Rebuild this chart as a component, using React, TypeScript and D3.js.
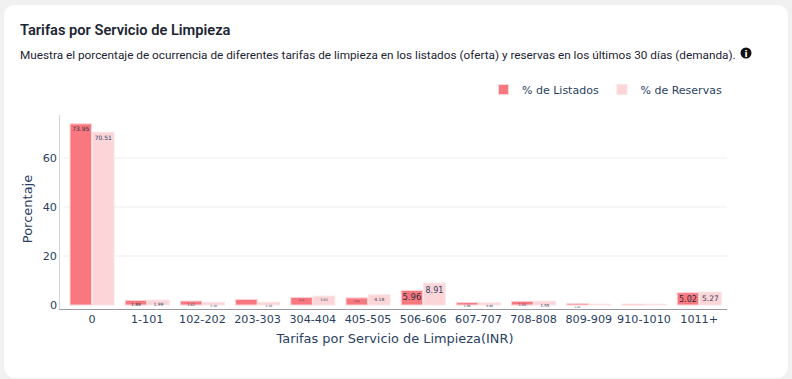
import React from "react";
import * as d3 from "d3";

const categories = ["0","1-101","102-202","203-303","304-404","405-505","506-606","607-707","708-808","809-909","910-1010","1011+"];
const listados = [73.95,1.88,1.62,2.3,3.1,2.9,5.96,1.0,1.5,0.6,0.3,5.02];
const reservas = [70.51,1.99,1.1,1.1,3.61,4.18,8.91,0.9,1.55,0.3,0.3,5.27];
const listadosLabels = ["73.95","1.88","1.62","","3.10","2.90","5.96","1.00","1.50","0.60","","5.02"];
const reservasLabels = ["70.51","1.99","1.10","1.10","3.61","4.18","8.91","0.90","1.55","","","5.27"];
const labelSizesL = [6,4.5,3.5,0,2.5,2.5,8.5,3,3.5,2.5,0,8];
const labelSizesR = [6,4.5,3,3,3.5,4.5,8,3,4,0,0,7.5];
const yTicks = [0,20,40,60];

const y = d3.scaleLinear().domain([0,60]).range([305,158]);
const x = d3.scaleBand<string>().domain(categories).range([64.4,726.8]).paddingInner(0);
const UI = "Roboto, 'Noto Sans', sans-serif";
const AX = "'DejaVu Sans', Verdana, sans-serif";
const C1 = "#f9777f", C2 = "#fcd5d8", S1 = "#fcd5d8", S2 = "#fbe3e5";
const BW = 21.5;

export default function App() {
  return (
    <svg width={792} height={379} style={{position:"fixed",left:0,top:0,background:"#f1f1f1"}}>
      <rect x={4} y={5} width={784} height={373} rx={11} fill="#fff"/>
      <text x={20} y={35} fontFamily={UI} fontSize={14.63} fontWeight={600} fill="#1c2533">Tarifas por Servicio de Limpieza</text>
      <text x={20} y={59} fontFamily={UI} fontSize={11.77} fill="#1c2533">Muestra el porcentaje de ocurrencia de diferentes tarifas de limpieza en los listados (oferta) y reservas en los últimos 30 días (demanda).</text>
      <circle cx={746} cy={53} r={5.5} fill="#111"/>
      <text x={746} y={56.5} textAnchor="middle" fontFamily={AX} fontSize={9} fontWeight={700} fill="#fff">i</text>

      <rect x={498.5} y={84.5} width={10} height={10} fill={C1} stroke={S1}/>
      <text x={522} y={94} fontFamily={AX} fontSize={11} fill="#2a3f5f">% de Listados</text>
      <rect x={617} y={84.5} width={10} height={10} fill={C2} stroke={S2}/>
      <text x={640.5} y={94} fontFamily={AX} fontSize={11} fill="#2a3f5f">% de Reservas</text>

      {yTicks.filter(t=>t>0).map(t=>(
        <line key={t} x1={64} x2={727} y1={y(t)} y2={y(t)} stroke="#eeeef0" strokeWidth={1}/>
      ))}
      <line x1={59.5} x2={59.5} y1={115} y2={309} stroke="#d6d6d6" strokeWidth={1}/>
      <line x1={59} x2={727} y1={309.5} y2={309.5} stroke="#9a9aa0" strokeWidth={1}/>

      {categories.map((c,i)=>{
        const cx = x(c)! + x.bandwidth()/2;
        const yL = y(listados[i]), yR = y(reservas[i]);
        return (
          <g key={c}>
            <rect x={cx-BW-0.5} y={yL} width={BW} height={y(0)-yL} fill={C1} stroke={S1} strokeWidth={1}/>
            <rect x={cx+0.5} y={yR} width={BW} height={y(0)-yR} fill={C2} stroke={S2} strokeWidth={1}/>
            {labelSizesL[i]>0 && <text x={cx-BW/2-0.5} y={yL+labelSizesL[i]+1.5} textAnchor="middle" fontFamily={AX} fontSize={labelSizesL[i]} fill="#2a3040">{listadosLabels[i]}</text>}
            {labelSizesR[i]>0 && <text x={cx+BW/2+0.5} y={yR+labelSizesR[i]+1.5} textAnchor="middle" fontFamily={AX} fontSize={labelSizesR[i]} fill="#2a3f5f">{reservasLabels[i]}</text>}
            <text x={cx} y={323} textAnchor="middle" fontFamily={AX} fontSize={11.2} fill="#2a3f5f">{c}</text>
          </g>
        );
      })}
      {yTicks.map(t=>(
        <text key={t} x={57} y={y(t)+4} textAnchor="end" fontFamily={AX} fontSize={11.2} fill="#2a3f5f">{t}</text>
      ))}
      <text transform="translate(32,209) rotate(-90)" textAnchor="middle" fontFamily={AX} fontSize={13} fill="#2a3f5f">Porcentaje</text>
      <text x={395} y={343} textAnchor="middle" fontFamily={AX} fontSize={12.9} fill="#2a3f5f">Tarifas por Servicio de Limpieza(INR)</text>
    </svg>
  );
}
